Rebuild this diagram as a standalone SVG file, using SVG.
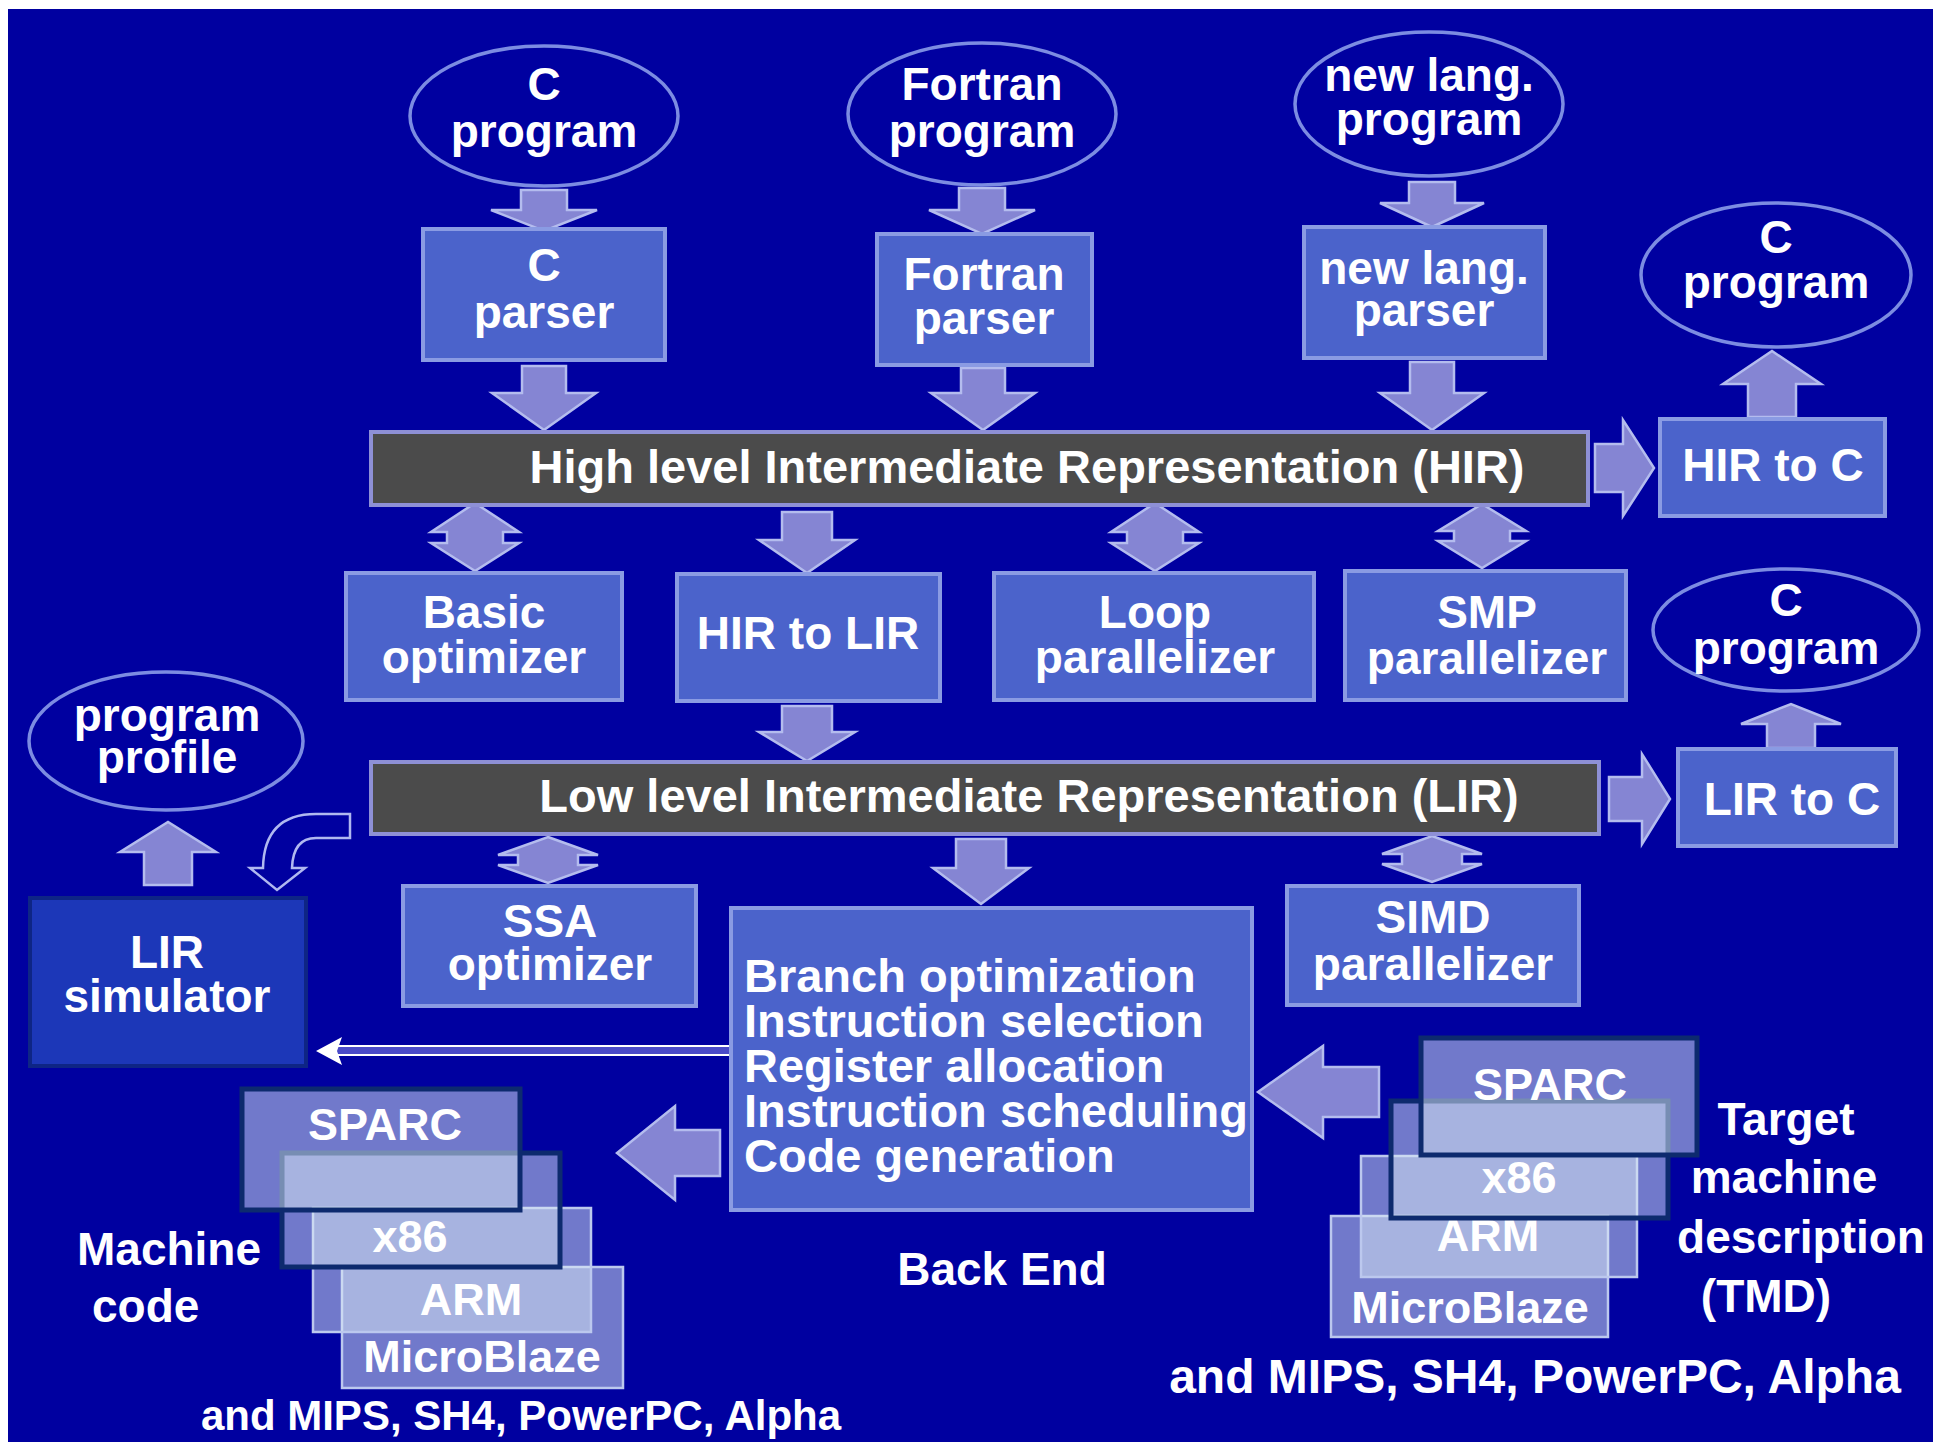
<svg xmlns="http://www.w3.org/2000/svg" width="1933" height="1442" viewBox="0 0 1933 1442">
<style>
.bg{fill:#0000A0}
.box{fill:#4B63CB;stroke:#8A9BE3;stroke-width:4}
.ell{fill:none;stroke:#7C8CE2;stroke-width:3.5}
.arr{fill:#8585D3;stroke:#B4BCEE;stroke-width:2.5;stroke-linejoin:miter}
.bar{fill:#4B4B4B;stroke:#8E90D6;stroke-width:4}
.sim{fill:#1C37B8;stroke:#0E2585;stroke-width:4}
.stk{fill:#D8E8F4;fill-opacity:0.52}
.dk{stroke:#0D2A6E;stroke-width:5}
.lt{stroke:#BCC8EE;stroke-width:2.5}
.t{font-family:"Liberation Sans",Arial,sans-serif;font-weight:bold;font-size:46px;fill:#FFFFFF;text-anchor:middle}
.tl{text-anchor:start}
</style>
<rect x="0" y="0" width="1933" height="1442" fill="#FFFFFF"/>
<rect class="bg" x="8" y="9" width="1925" height="1433"/>

<g id="connectors">
  <path class="arr" d="M521 190H567V210H597L544 231L491 210H521Z"/>
  <path class="arr" d="M959 188H1005V210H1035L982 234L929 210H959Z"/>
  <path class="arr" d="M1409 182H1455V203H1484L1432 227L1380 203H1409Z"/>
  <path class="arr" d="M522 366H566V393H596L544 430L492 393H522Z"/>
  <path class="arr" d="M961 368H1005V393H1035L983 430L931 393H961Z"/>
  <path class="arr" d="M1410 362H1454V393H1484L1432 430L1380 393H1410Z"/>
  <path class="arr" d="M782 512H832V540H855L807 573L759 540H782Z"/>
  <path class="arr" d="M782 706H832V732H855L807 761L759 732H782Z"/>
  <path class="arr" d="M956 839H1006V868H1029L981 904L933 868H956Z"/>
  <path class="arr" d="M144 885H192V852H216L168 822L120 852H144Z"/>
  <path class="arr" d="M1748 417H1796V384H1821L1772 351L1723 384H1748Z"/>
  <path class="arr" d="M1767 748H1815V724H1841L1791 704L1741 724H1767Z"/>
  <path class="arr" d="M1595 444V492H1623V516L1654 468L1623 420V444Z"/>
  <path class="arr" d="M1609 777V821H1642V844L1670 799L1642 754V777Z"/>
  <path class="arr" d="M1379 1067V1117H1323V1138L1258 1092L1323 1046V1067Z"/>
  <path class="arr" d="M720 1130V1176H675V1200L617 1153L675 1106V1130Z"/>
  <path class="arr" d="M475 503L519 532H503V543H519L475 571L431 543H447V532H431Z"/>
  <path class="arr" d="M1155 503L1199 532H1183V543H1199L1155 571L1111 543H1127V532H1111Z"/>
  <path class="arr" d="M1482 504L1526 531H1510V541H1526L1482 568L1438 541H1454V531H1438Z"/>
  <path class="arr" d="M548 837L598 855H578V865H598L548 883L498 865H518V855H498Z"/>
  <path class="arr" d="M1432 836L1482 854H1462V864H1482L1432 882L1382 864H1402V854H1382Z"/>
  <path d="M350 814H316Q264 814 263 868H250L277 890L305 868H292Q293 838 316 838H350Z" fill="none" stroke="#B0B8F0" stroke-width="2.5"/>
  <rect x="336" y="1046" width="406" height="9" fill="#4A4AC8" stroke="#FFFFFF" stroke-width="2"/>
  <path d="M316 1051L342 1037L337 1051L342 1065Z" fill="#FFFFFF"/>
</g>

<g id="c-program-in">
  <ellipse class="ell" cx="544" cy="116" rx="134" ry="70"/>
  <text class="t" x="544" y="100">C</text>
  <text class="t" x="544" y="147">program</text>
</g>
<g id="fortran-program">
  <ellipse class="ell" cx="982" cy="114" rx="134" ry="71"/>
  <text class="t" x="982" y="100">Fortran</text>
  <text class="t" x="982" y="147">program</text>
</g>
<g id="newlang-program">
  <ellipse class="ell" cx="1429" cy="104" rx="134" ry="72"/>
  <text class="t" x="1429" y="91">new lang.</text>
  <text class="t" x="1429" y="135">program</text>
</g>

<g id="c-parser">
  <rect class="box" x="423" y="229" width="242" height="131"/>
  <text class="t" x="544" y="281">C</text>
  <text class="t" x="544" y="328">parser</text>
</g>
<g id="fortran-parser">
  <rect class="box" x="877" y="234" width="215" height="131"/>
  <text class="t" x="984" y="290">Fortran</text>
  <text class="t" x="984" y="334">parser</text>
</g>
<g id="newlang-parser">
  <rect class="box" x="1304" y="227" width="241" height="131"/>
  <text class="t" x="1424" y="284">new lang.</text>
  <text class="t" x="1424" y="326">parser</text>
</g>

<g id="hir">
  <rect class="bar" x="371" y="432" width="1217" height="73"/>
  <text class="t" x="1027" y="483" style="font-size:47px">High level Intermediate Representation (HIR)</text>
</g>
<g id="hir-to-c">
  <rect class="box" x="1660" y="419" width="225" height="97"/>
  <text class="t" x="1773" y="481">HIR to C</text>
</g>
<g id="c-program-hir">
  <ellipse class="ell" cx="1776" cy="275" rx="135" ry="72"/>
  <text class="t" x="1776" y="253">C</text>
  <text class="t" x="1776" y="298">program</text>
</g>

<g id="basic-optimizer">
  <rect class="box" x="346" y="573" width="276" height="127"/>
  <text class="t" x="484" y="628">Basic</text>
  <text class="t" x="484" y="673">optimizer</text>
</g>
<g id="hir-to-lir">
  <rect class="box" x="677" y="574" width="263" height="127"/>
  <text class="t" x="808" y="649">HIR to LIR</text>
</g>
<g id="loop-parallelizer">
  <rect class="box" x="994" y="573" width="320" height="127"/>
  <text class="t" x="1155" y="628">Loop</text>
  <text class="t" x="1155" y="673">parallelizer</text>
</g>
<g id="smp-parallelizer">
  <rect class="box" x="1345" y="571" width="281" height="129"/>
  <text class="t" x="1487" y="628">SMP</text>
  <text class="t" x="1487" y="674">parallelizer</text>
</g>
<g id="c-program-lir">
  <ellipse class="ell" cx="1786" cy="630" rx="133" ry="61"/>
  <text class="t" x="1786" y="616">C</text>
  <text class="t" x="1786" y="664">program</text>
</g>

<g id="lir">
  <rect class="bar" x="371" y="762" width="1228" height="72"/>
  <text class="t" x="1029" y="812" style="font-size:47px">Low level Intermediate Representation (LIR)</text>
</g>
<g id="lir-to-c">
  <rect class="box" x="1678" y="749" width="218" height="97"/>
  <text class="t" x="1792" y="815">LIR to C</text>
</g>

<g id="program-profile">
  <ellipse class="ell" cx="166" cy="741" rx="137" ry="69"/>
  <text class="t" x="167" y="731">program</text>
  <text class="t" x="167" y="773">profile</text>
</g>
<g id="lir-simulator">
  <rect class="sim" x="30" y="898" width="276" height="168"/>
  <text class="t" x="167" y="968">LIR</text>
  <text class="t" x="167" y="1012">simulator</text>
</g>

<g id="ssa-optimizer">
  <rect class="box" x="403" y="886" width="293" height="120"/>
  <text class="t" x="550" y="937">SSA</text>
  <text class="t" x="550" y="980">optimizer</text>
</g>
<g id="simd-parallelizer">
  <rect class="box" x="1287" y="886" width="292" height="119"/>
  <text class="t" x="1433" y="933">SIMD</text>
  <text class="t" x="1433" y="980">parallelizer</text>
</g>

<g id="back-end">
  <rect class="box" x="731" y="908" width="521" height="302"/>
  <text class="t tl" x="744" y="992" style="font-size:47px">Branch optimization</text>
  <text class="t tl" x="744" y="1037" style="font-size:47px">Instruction selection</text>
  <text class="t tl" x="744" y="1082" style="font-size:47px">Register allocation</text>
  <text class="t tl" x="744" y="1127" style="font-size:47px">Instruction scheduling</text>
  <text class="t tl" x="744" y="1172" style="font-size:47px">Code generation</text>
  <text class="t" x="1002" y="1285">Back End</text>
</g>

<g id="machine-code">
  <rect class="stk lt" x="342" y="1267" width="281" height="121"/>
  <text class="t" x="482" y="1372" style="font-size:45px">MicroBlaze</text>
  <rect class="stk lt" x="313" y="1208" width="278" height="124"/>
  <text class="t" x="471" y="1315" style="font-size:45px">ARM</text>
  <rect class="stk dk" x="282" y="1153" width="278" height="114"/>
  <text class="t" x="410" y="1252" style="font-size:45px">x86</text>
  <rect class="stk dk" x="242" y="1089" width="278" height="121"/>
  <text class="t" x="385" y="1140" style="font-size:45px">SPARC</text>
  <text class="t tl" x="77" y="1265">Machine</text>
  <text class="t tl" x="92" y="1322">code</text>
  <text class="t" x="521" y="1430" style="font-size:42px">and MIPS, SH4, PowerPC, Alpha</text>
</g>

<g id="target-machine-description">
  <rect class="stk lt" x="1331" y="1216" width="277" height="121"/>
  <text class="t" x="1470" y="1323" style="font-size:45px">MicroBlaze</text>
  <rect class="stk lt" x="1361" y="1156" width="276" height="121"/>
  <text class="t" x="1488" y="1251" style="font-size:45px">ARM</text>
  <rect class="stk dk" x="1391" y="1101" width="277" height="117"/>
  <text class="t" x="1519" y="1193" style="font-size:45px">x86</text>
  <rect class="stk dk" x="1421" y="1038" width="276" height="117"/>
  <text class="t" x="1550" y="1100" style="font-size:45px">SPARC</text>
  <text class="t" x="1786" y="1135">Target</text>
  <text class="t" x="1784" y="1193">machine</text>
  <text class="t" x="1801" y="1253">description</text>
  <text class="t" x="1766" y="1312">(TMD)</text>
  <text class="t" x="1535" y="1393" style="font-size:48px">and MIPS, SH4, PowerPC, Alpha</text>
</g>
</svg>
